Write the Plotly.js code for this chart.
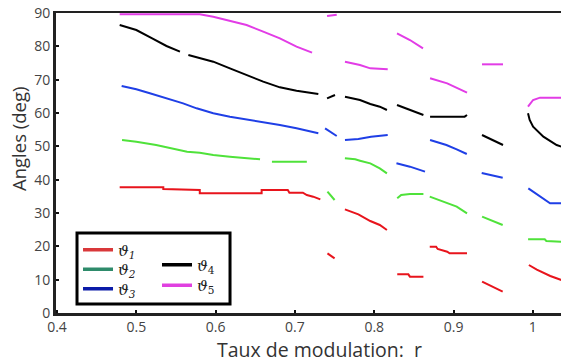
<!DOCTYPE html>
<html>
<head>
<meta charset="utf-8">
<script src="https://cdn.plot.ly/plotly-3.0.1.min.js"></script>
<style>html,body{margin:0;padding:0;background:#fff;}#chart{width:561px;height:362px;}</style>
</head>
<body>
<div id="chart"></div>
<script>
// Modulation ratio r (x) and angle values in degrees (y); null separates segments
const r1 = [0.479,0.534,0.534,0.580,0.580,0.658,0.658,0.691,0.693,0.710,0.715,0.723,0.732, null, 0.741,0.750, null, 0.763,0.780,0.795,0.807,0.816, null, 0.829,0.843,0.845,0.862, null, 0.870,0.878,0.880,0.892,0.895,0.917, null, 0.936,0.949,0.962, null, 0.995,1.005,1.022,1.036];
const t1 = [37.7,37.7,37.2,36.9,35.9,35.9,36.9,36.9,36.1,36.1,35.4,34.9,34.1, null, 17.9,16.4, null, 31.1,29.6,27.6,26.4,24.9, null, 11.6,11.6,10.9,10.9, null, 19.9,19.9,19.2,18.4,17.9,17.9, null, 9.4,7.9,6.4, null, 14.4,13.0,11.1,9.9];

const r2 = [0.482,0.500,0.525,0.555,0.564,0.580,0.597,0.618,0.639,0.656, null, 0.671,0.715, null, 0.741,0.750, null, 0.763,0.776,0.782,0.795,0.807,0.816, null, 0.829,0.834,0.845,0.862, null, 0.870,0.891,0.904,0.917, null, 0.936,0.949,0.962, null, 0.994,1.015,1.017,1.036];
const t2 = [51.9,51.4,50.4,48.9,48.4,48.1,47.4,46.9,46.4,46.1, null, 45.4,45.4, null, 36.4,33.9, null, 46.4,46.1,45.7,44.9,43.4,41.9, null, 34.4,35.4,35.7,35.7, null, 34.9,32.9,31.9,29.9, null, 28.9,27.6,26.4, null, 22.1,22.1,21.6,21.4];

const r3 = [0.4815,0.500,0.517,0.538,0.559,0.576,0.597,0.618,0.639,0.660,0.681,0.702,0.7295, null, 0.738,0.7527, null, 0.7631,0.780,0.796,0.817, null, 0.828,0.845,0.864, null, 0.8704,0.891,0.904,0.9167, null, 0.9355,0.962, null, 0.9943,1.009,1.0217,1.036];
const t3 = [68.1,67.1,65.9,64.4,62.9,61.4,59.9,58.9,58.1,57.1,56.4,55.4,53.9, null, 55.4,53.1, null, 51.9,52.2,52.9,53.4, null, 44.9,43.9,42.4, null, 51.9,50.4,49.1,47.7, null, 42.0,40.6, null, 37.4,34.9,32.9,32.9];

const r4 = [0.479,0.500,0.520,0.538,0.555, null, 0.5656,0.580,0.597,0.618,0.639,0.660,0.681,0.702,0.7295, null, 0.7405,0.7505, null, 0.7631,0.782,0.795,0.807,0.816, null, 0.8287,0.845,0.862, null, 0.8704,0.914,0.917, null, 0.9359,0.949,0.9624, null, 0.9939,0.996,1.0003,1.0133,1.030,1.036];
const t4 = [86.4,84.9,82.4,80.1,78.4, null, 77.4,76.4,75.4,73.4,71.4,69.4,67.7,66.7,65.7, null, 64.4,65.4, null, 64.9,63.9,62.7,61.9,60.9, null, 62.4,60.9,59.4, null, 58.9,58.9,59.4, null, 53.4,51.9,50.4, null, 59.9,57.9,55.9,52.9,50.4,49.9];

const r5 = [0.479,0.580,0.597,0.618,0.639,0.660,0.681,0.702,0.7216, null, 0.7405,0.7527, null, 0.7631,0.782,0.795,0.817, null, 0.8287,0.845,0.8615, null, 0.8704,0.892,0.917, null, 0.9359,0.9624, null, 0.9939,1.0003,1.009,1.036];
const t5 = [89.6,89.6,88.9,87.7,86.4,84.4,82.4,79.9,78.1, null, 89.1,89.5, null, 75.4,74.4,73.4,73.1, null, 83.9,81.9,79.4, null, 70.4,68.9,66.1, null, 74.6,74.6, null, 61.9,63.9,64.6,64.6];

const seriesNames = ['<i>ϑ</i><sub><i>1</i></sub>','<i>ϑ</i><sub><i>2</i></sub>','<i>ϑ</i><sub><i>3</i></sub>','<i>ϑ</i><sub>4</sub>','<i>ϑ</i><sub>5</sub>'];
const dataColors = ['#e8141c','#4fe23a','#1f3fe6','#000000','#e23ce6'];
const legendColors = ['#d9383a','#2e8b6b','#0b1ba8','#000000','#e040e0'];
const xTicks = [0.4,0.5,0.6,0.7,0.8,0.9,1.0];
const xTickText = ['0.4','0.5','0.6','0.7','0.8','0.9','1'];
const yTicks = [0,10,20,30,40,50,60,70,80,90];
const xTitle = 'Taux de modulation:  r';
const yTitle = 'Angles (deg)';

const xs = [r1,r2,r3,r4,r5];
const ys = [t1,t2,t3,t4,t5];
const legendIds = ['legend','legend2','legend3','legend4','legend5'];

const traces = [];
for (let i = 0; i < 5; i++) {
  traces.push({x: xs[i], y: ys[i], mode: 'lines', type: 'scatter', showlegend: false,
    line: {color: dataColors[i], width: 2}, hoverinfo: 'skip'});
}
for (let i = 0; i < 5; i++) {
  traces.push({x: [null], y: [null], mode: 'lines', type: 'scatter', name: seriesNames[i],
    legend: legendIds[i], line: {color: legendColors[i], width: 3.5}});
}

const legendFont = {family: 'DejaVu Serif', size: 15, color: '#222'};
function mkLegend(x, y) {
  return {x: x, y: y, xanchor: 'left', yanchor: 'middle', bgcolor: 'rgba(0,0,0,0)', borderwidth: 0,
    font: legendFont, tracegroupgap: 0, itemwidth: 30};
}
function py(pix) { return (313 - pix) / 300; }

const layout = {
  width: 561, height: 362,
  margin: {l: 56, r: 0, t: 13, b: 49, pad: 0},
  paper_bgcolor: '#ffffff', plot_bgcolor: '#ffffff',
  font: {family: 'Open Sans, Noto Sans, sans-serif', color: '#444'},
  xaxis: {range: [0.3987, 1.0355], tickvals: xTicks, ticktext: xTickText, ticks: 'inside', ticklen: 3,
    tickwidth: 2, tickcolor: '#111', showline: true, linecolor: '#222', linewidth: 2.5, mirror: true,
    showgrid: false, zeroline: false, tickfont: {size: 14, color: '#444'}},
  yaxis: {range: [0, 90], tickvals: yTicks, ticks: 'inside', ticklen: 3, tickwidth: 2, tickcolor: '#111',
    showline: true, linecolor: '#222', linewidth: 3, mirror: false, showgrid: false, zeroline: false,
    tickfont: {size: 14, color: '#444'}},
  legend: mkLegend(0.0436, py(250)),
  legend2: mkLegend(0.0436, py(269.5)),
  legend3: mkLegend(0.0436, py(289)),
  legend4: mkLegend(0.200, py(265)),
  legend5: mkLegend(0.200, py(285.5)),
  annotations: [
    {text: xTitle, xref: 'paper', yref: 'paper', x: (319 - 56) / 505, y: -(349 - 313) / 300,
      xanchor: 'center', yanchor: 'middle', showarrow: false, font: {size: 19.5, color: '#333'}},
    {text: yTitle, xref: 'paper', yref: 'paper', x: -(56 - 18) / 505, y: (313 - 139) / 300,
      xanchor: 'center', yanchor: 'middle', showarrow: false, textangle: -90, font: {size: 18.5, color: '#333'}}
  ],
  shapes: [{type: 'rect', xref: 'paper', yref: 'paper', x0: 0.0416, x1: 0.3446, y0: 0.03, y1: 0.267,
    line: {color: '#000', width: 3}, fillcolor: '#ffffff', layer: 'below'}],
  showlegend: true
};

Plotly.newPlot('chart', traces, layout, {displayModeBar: false, staticPlot: true});
</script>
</body>
</html>
